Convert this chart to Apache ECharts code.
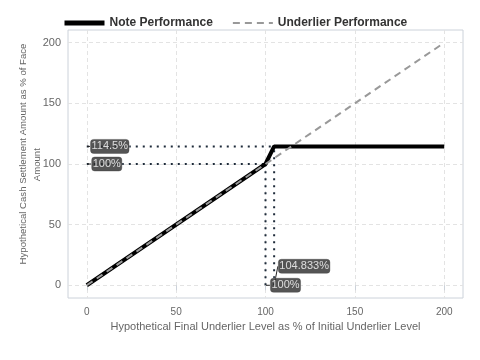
<!DOCTYPE html>
<html>
<head>
<meta charset="utf-8">
<script src="https://cdn.jsdelivr.net/npm/echarts@6/dist/echarts.min.js"></script>
<style>
  html, body { margin: 0; padding: 0; background: #fff; }
  #chart { width: 480px; height: 360px; }
</style>
</head>
<body>
<div id="chart"></div>
<script>
// payoff points (x = underlier level %, y = settlement %)
const noteX = [0, 100, 104.833, 200];
const noteY = [0, 100, 114.5, 114.5];
const underlierX = [0, 200];
const underlierY = [0, 200];
const axisTicks = [0, 50, 100, 150, 200];

// reference levels
const barrier = 100;
const capLevel = 104.833;
const maxReturn = 114.5;

const font = "'Liberation Sans', Arial, sans-serif";
const dotColor = "#1e2b3a";

function pairs(xs, ys) {
  return xs.map((x, i) => [x, ys[i]]);
}

function dotted(points) {
  return {
    type: "line",
    data: points,
    symbol: "none",
    silent: true,
    z: 1,
    lineStyle: { color: dotColor, width: 2, type: [2, 5] },
  };
}

function tag(point, text, dx, dy) {
  return {
    type: "scatter",
    symbolSize: 1,
    itemStyle: { color: "transparent" },
    silent: true,
    z: 5,
    data: [{ value: point }],
    label: {
      show: true,
      position: "inside",
      formatter: text,
      color: "#fff",
      fontFamily: font,
      fontSize: 11,
      backgroundColor: "#2a2a2a",
      borderColor: "#aaa",
      borderWidth: 0.5,
      borderRadius: 3,
      padding: [2, 1, 1, 1],
    },
    labelLayout: { dx: dx, dy: dy },
    labelLine: { show: true, lineStyle: { color: "#222", width: 1 } },
  };
}

const chart = echarts.init(document.getElementById("chart"));

chart.setOption({
  animation: false,
  textStyle: { fontFamily: font },
  legend: {
    left: 57,
    top: 12,
    itemWidth: 40,
    itemHeight: 12,
    itemGap: 19,
    itemStyle: { opacity: 0 },
    data: [
      { name: "Note Performance", lineStyle: { width: 5 } },
      { name: "Underlier Performance" },
    ],
    textStyle: { fontSize: 12, fontWeight: "bold", color: "#333", fontFamily: font },
  },
  grid: {
    left: 68,
    right: 17,
    top: 30,
    bottom: 62,
    show: true,
    borderColor: "#ccd2da",
    borderWidth: 1,
  },
  xAxis: {
    type: "value",
    min: -10.5,
    max: 210.5,
    name: "Hypothetical Final Underlier Level as % of Initial Underlier Level",
    nameLocation: "middle",
    nameGap: 23,
    nameMoveOverlap: false,
    nameTextStyle: { fontSize: 11, color: "#666", fontFamily: font, verticalAlign: "top" },
    axisLine: { show: false },
    axisTick: { show: true, length: 5, customValues: axisTicks, lineStyle: { color: "#ccd2da" } },
    axisLabel: { customValues: axisTicks, fontSize: 10, color: "#666", margin: 9 },
    splitLine: { show: true, lineStyle: { color: "#e3e3e3", type: [4, 3] } },
  },
  yAxis: {
    type: "value",
    min: -10.5,
    max: 210.5,
    name: "Hypothetical Cash Settlement Amount as % of Face\nAmount        ",
    nameLocation: "middle",
    nameGap: 38,
    nameMoveOverlap: false,
    nameTextStyle: {
      fontSize: 9.6, color: "#666", fontFamily: font, lineHeight: 14,
      verticalAlign: "middle", padding: [0, 0, 0, 20],
    },
    axisLine: { show: false },
    axisTick: { show: false, customValues: axisTicks },
    axisLabel: { customValues: axisTicks, fontSize: 11, color: "#666", margin: 7 },
    splitLine: { show: true, lineStyle: { color: "#e3e3e3", type: [4, 3] } },
  },
  series: [
    dotted([[0, maxReturn], [capLevel, maxReturn]]),
    dotted([[0, barrier], [barrier, barrier]]),
    dotted([[barrier, 0], [barrier, barrier]]),
    dotted([[capLevel, 0], [capLevel, maxReturn]]),
    {
      name: "Note Performance",
      type: "line",
      data: pairs(noteX, noteY),
      symbol: "none",
      z: 3,
      color: "#000",
      lineStyle: { color: "#000", width: 4 },
    },
    {
      name: "Underlier Performance",
      type: "line",
      data: pairs(underlierX, underlierY),
      symbol: "none",
      z: 4,
      color: "#999",
      lineStyle: { color: "#999", width: 2, type: [7, 5] },
    },
    tag([0, maxReturn], "114.5%", 23, 0),
    tag([0, barrier], "100%", 20, 0),
    tag([capLevel, 0], "104.833%", 30, -19),
    tag([barrier, 0], "100%", 20, 0),
  ],
});
</script>
</body>
</html>
